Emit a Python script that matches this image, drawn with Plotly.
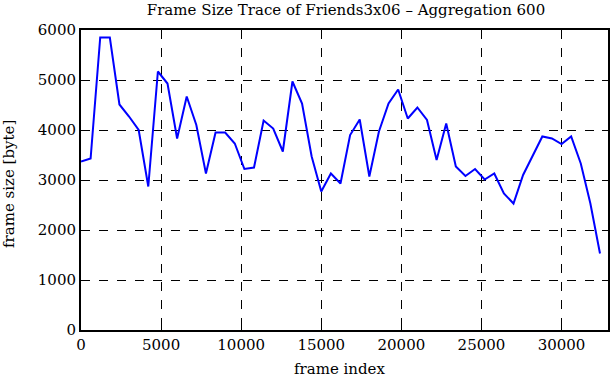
import plotly.graph_objects as go

frame_index = [i * 600 for i in range(55)]
frame_size = [3370, 3430, 5850, 5850, 4510, 4270, 4000, 2870, 5170, 4930,
              3830, 4670, 4100, 3130, 3950, 3950, 3730, 3220, 3250, 4190,
              4030, 3570, 4970, 4530, 3470, 2770, 3130, 2930, 3900, 4210,
              3070, 3970, 4530, 4810, 4230, 4450, 4200, 3400, 4130, 3270,
              3080, 3220, 3010, 3130, 2730, 2530, 3100, 3500, 3870, 3830,
              3720, 3870, 3330, 2530, 1530]

title_text = "Frame Size Trace of Friends3x06 \u2013 Aggregation 600"
x_title = "frame index"
y_title = "frame size [byte]"
x_ticks = [0, 5000, 10000, 15000, 20000, 25000, 30000]
y_ticks = [0, 1000, 2000, 3000, 4000, 5000, 6000]

font_family = "DejaVu Serif, serif"
fs = 15

W, H = 611, 380
L, R, T, B = 81, 3, 30, 50
pw, ph = W - L - R, H - T - B

fig = go.Figure()
fig.add_trace(go.Scatter(x=frame_index, y=frame_size, mode="lines",
                         line=dict(color="#0000ff", width=2),
                         showlegend=False))

axis_common = dict(
    showline=True, linecolor="black", linewidth=2, mirror="ticks",
    ticks="inside", ticklen=6, tickcolor="black", tickwidth=1,
    showgrid=True, gridcolor="black", griddash="dash", gridwidth=1,
    zeroline=False, automargin=False,
    tickfont=dict(family=font_family, size=fs, color="black"),
)

fig.update_layout(
    width=W, height=H,
    margin=dict(l=L, r=R, t=T, b=B),
    paper_bgcolor="white", plot_bgcolor="white",
    font=dict(family=font_family, size=fs, color="black"),
    title=dict(text=title_text, x=346 / W, xanchor="center",
               xref="container", yref="container",
               y=1 - 10 / H, yanchor="middle",
               font=dict(family=font_family, size=fs, color="black")),
    xaxis=dict(range=[0, 32900], tickvals=x_ticks,
               ticktext=[str(v) for v in x_ticks], **axis_common),
    yaxis=dict(range=[0, 6000], tickvals=y_ticks,
               ticktext=[str(v) for v in y_ticks], **axis_common),
    annotations=[
        dict(text=x_title, xref="paper", yref="paper", x=(339 - L) / pw,
             y=-(369 - T - ph) / ph, xanchor="center", yanchor="middle",
             showarrow=False, font=dict(family=font_family, size=fs)),
        dict(text=y_title, xref="paper", yref="paper", x=-(L - 9) / pw,
             y=(T + ph - 184) / ph, xanchor="center", yanchor="middle",
             textangle=-90, showarrow=False,
             font=dict(family=font_family, size=fs)),
    ],
)

fig.write_html("out.html",
               config={"displayModeBar": False},
               post_script="document.body.style.margin='0px';"
                           "document.body.style.overflow='hidden';")
